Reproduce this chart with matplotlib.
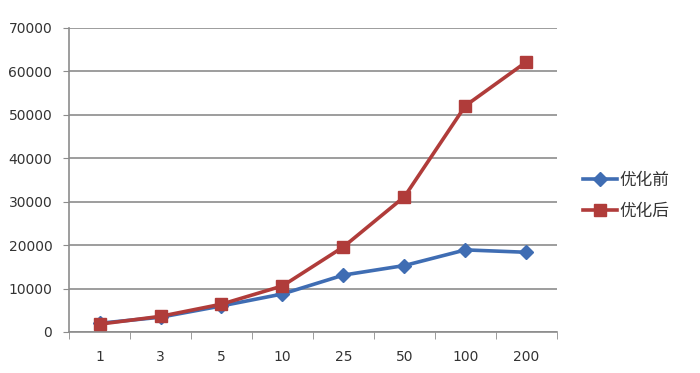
import matplotlib
matplotlib.use('Agg')
import matplotlib.pyplot as plt
import numpy as np

plt.rcParams['font.family'] = ['DejaVu Sans', 'Noto Sans CJK SC']

categories = ['1', '3', '5', '10', '25', '50', '100', '200']
before = [2000, 3400, 6000, 8750, 13100, 15300, 18900, 18350]
after = [1800, 3600, 6400, 10600, 19600, 31150, 52100, 62200]
series_names = ['优化前', '优化后']

fig = plt.figure(figsize=(7, 3.73), dpi=100)
ax = fig.add_axes([0.0986, 0.11, 0.697, 0.815])

x = np.arange(len(categories))
ax.plot(x, before, color='#3F6DB3', lw=2.6, marker='D', ms=7.5,
        mec='#3F6DB3', label=series_names[0], zorder=3)
ax.plot(x, after, color='#B03C3A', lw=2.6, marker='s', ms=9,
        mec='#B03C3A', label=series_names[1], zorder=4)

ax.set_xlim(-0.5, len(categories) - 0.5)
ax.set_ylim(0, 70000)
ax.set_yticks(np.arange(0, 70001, 10000))
ax.set_xticks(x)
ax.set_xticklabels(categories)
ax.set_xticks(np.arange(-0.5, len(categories), 1), minor=True)

ax.yaxis.grid(True, color='#8C8C8C', lw=1.2)
ax.set_axisbelow(True)
for side in ['top', 'right']:
    ax.spines[side].set_visible(False)
for side in ['left', 'bottom']:
    ax.spines[side].set_color('#8C8C8C')
    ax.spines[side].set_linewidth(1.2)

ax.tick_params(axis='y', length=4, color='#8C8C8C', labelsize=10, labelcolor='#333333', pad=8)
ax.tick_params(axis='x', which='major', length=0, labelsize=10, labelcolor='#333333', pad=13)
ax.tick_params(axis='x', which='minor', length=5, color='#8C8C8C', direction='out')

leg = fig.legend(loc='center left', bbox_to_anchor=(0.812, 0.475), frameon=False,
                 prop={'family': 'Noto Sans CJK SC', 'size': 12},
                 handlelength=2.0, handletextpad=0.15, labelspacing=0.85)
for t in leg.get_texts():
    t.set_color('#333333')

fig.savefig('out.png', dpi=100)
